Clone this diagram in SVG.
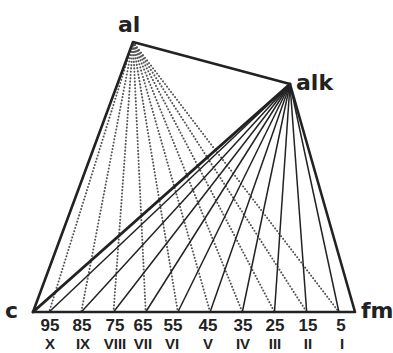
<svg xmlns="http://www.w3.org/2000/svg" width="393" height="353" viewBox="0 0 393 353">
<style>
.edge{stroke:#222;stroke-width:2.6;fill:none;stroke-linecap:round;stroke-linejoin:round}
.thick{stroke:#222;stroke-width:3;fill:none;stroke-linecap:round}
.tie{stroke:#222;stroke-width:1.5;fill:none}
.dot{stroke:#555;stroke-width:2;fill:none;stroke-dasharray:0.1 3.2;stroke-linecap:round}
.lbl{font-family:"DejaVu Sans","Liberation Sans",sans-serif;font-weight:bold;fill:#222}
.num{font-family:"Liberation Sans","DejaVu Sans",sans-serif;font-weight:bold;fill:#222;font-size:17px;text-anchor:middle}
.rom{font-family:"Liberation Sans","DejaVu Sans",sans-serif;font-weight:bold;fill:#222;font-size:15px;text-anchor:middle}
</style>
<rect width="393" height="353" fill="#fff"/>
<g id="connectors">
<g id="dotted">
<line class="dot" x1="133" y1="42" x2="49.1" y2="312"/>
<line class="dot" x1="133" y1="42" x2="81.3" y2="312"/>
<line class="dot" x1="133" y1="42" x2="113.5" y2="312"/>
<line class="dot" x1="133" y1="42" x2="145.7" y2="312"/>
<line class="dot" x1="133" y1="42" x2="177.9" y2="312"/>
<line class="dot" x1="133" y1="42" x2="210.1" y2="312"/>
<line class="dot" x1="133" y1="42" x2="242.3" y2="312"/>
<line class="dot" x1="133" y1="42" x2="274.5" y2="312"/>
<line class="dot" x1="133" y1="42" x2="306.7" y2="312"/>
<line class="dot" x1="133" y1="42" x2="338.9" y2="312"/>
</g>
<g id="ties">
<line class="tie" x1="290" y1="84" x2="49.1" y2="312"/>
<line class="tie" x1="290" y1="84" x2="81.3" y2="312"/>
<line class="tie" x1="290" y1="84" x2="113.5" y2="312"/>
<line class="tie" x1="290" y1="84" x2="145.7" y2="312"/>
<line class="tie" x1="290" y1="84" x2="177.9" y2="312"/>
<line class="tie" x1="290" y1="84" x2="210.1" y2="312"/>
<line class="tie" x1="290" y1="84" x2="242.3" y2="312"/>
<line class="tie" x1="290" y1="84" x2="274.5" y2="312"/>
<line class="tie" x1="290" y1="84" x2="306.7" y2="312"/>
<line class="tie" x1="290" y1="84" x2="338.9" y2="312"/>
<line class="thick" x1="290" y1="84" x2="33" y2="312"/>
</g>
<g id="edges">
<polyline class="edge" points="33,312 133,42 290,84 355,312 33,312"/>
</g>
</g>
<g id="node-al"><text class="lbl" x="118" y="32" font-size="22">al</text></g>
<g id="node-alk"><text class="lbl" x="296" y="90" font-size="22">alk</text></g>
<g id="node-c"><text class="lbl" x="5" y="318" font-size="22">c</text></g>
<g id="node-fm"><text class="lbl" x="361" y="318" font-size="22">fm</text></g>
<g id="scale">
<text class="num" x="50" y="331">95</text>
<text class="num" x="82" y="331">85</text>
<text class="num" x="115" y="331">75</text>
<text class="num" x="143" y="331">65</text>
<text class="num" x="173" y="331">55</text>
<text class="num" x="208" y="331">45</text>
<text class="num" x="243" y="331">35</text>
<text class="num" x="275" y="331">25</text>
<text class="num" x="308" y="331">15</text>
<text class="num" x="341" y="331">5</text>
<text class="rom" x="50" y="349">X</text>
<text class="rom" x="83" y="349">IX</text>
<text class="rom" x="115" y="349">VIII</text>
<text class="rom" x="143" y="349">VII</text>
<text class="rom" x="172" y="349">VI</text>
<text class="rom" x="208" y="349">V</text>
<text class="rom" x="243" y="349">IV</text>
<text class="rom" x="275" y="349">III</text>
<text class="rom" x="308" y="349">II</text>
<text class="rom" x="342" y="349">I</text>
</g>
</svg>
